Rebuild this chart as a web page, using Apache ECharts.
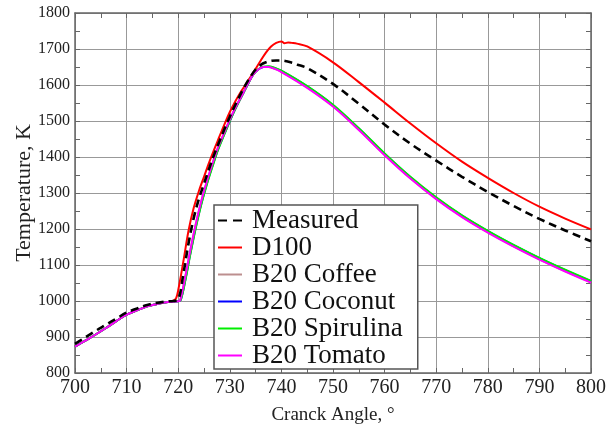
<!DOCTYPE html>
<html><head><meta charset="utf-8">
<script src="https://cdn.jsdelivr.net/npm/echarts@6/dist/echarts.min.js"></script>
<style>html,body{margin:0;padding:0;background:#fff}#c{width:609px;height:430px}</style>
</head><body><div id="c"></div>
<script>
const seriesNames = ['Measured','D100','B20 Coffee','B20 Coconut','B20 Spirulina','B20 Tomato'];
const seriesColors = ['#000000','#ff0000','#bc8f8f','#0000ff','#00ee00','#ff00ff'];

const xTicks = [700,710,720,730,740,750,760,770,780,790,800];
const yTicks = [800,900,1000,1100,1200,1300,1400,1500,1600,1700,1800];

const measuredAngle = [700,702,704,706,708,710,712,714,716,718,719,720,721,722,723,724,725,726,727,728,729,730,731,732,733,734,735,736,737,738,739,740,741,742,743,745,750,755,760,765,770,775,780,785,790,795,800];
const measuredTemp  = [881,899,917,934,951,968,979,989,995,999,1000,1004,1075,1160,1230,1283,1326,1368,1408,1444,1479,1512,1543,1572,1599,1623,1643,1656,1663,1667,1668,1668,1666,1662,1657,1647,1603,1548,1490,1437,1390,1345,1303,1264,1228,1196,1166];

const d100Angle = [700,702,704,706,708,710,712,714,716,718,719,719.6,720,721,722,723,724,725,726,727,728,729,730,731,732,733,734,735,736,737,738,739,740,740.6,741.3,742,743,745,750,755,760,765,770,775,780,785,790,795,800];
const d100Temp  = [873,890,907,925,944,962,974,985,992,997,1000,1008,1030,1110,1195,1258,1305,1345,1385,1422,1457,1492,1525,1553,1578,1600,1622,1645,1668,1690,1707,1717,1721,1716,1718,1717,1715,1707,1663,1608,1551,1493,1438,1387,1342,1300,1262,1229,1199];

const coffeeAngle = [700,702,704,706,708,710,712,714,716,718,720,720.4,721.3,722.2,723.2,724.3,725.5,726.6,727.7,729,730,731.3,732.6,733.6,734.5,735.5,736.5,737.5,738.5,740,745,750,755,760,765,770,775,780,785,790,795,800];
const coffeeTemp  = [873,890,907,925,944,962,974,985,992,997,999,1003,1062,1130,1200,1268,1330,1380,1426,1470,1504,1543,1578,1606,1628,1643,1650,1650,1646,1637,1593,1541,1476,1406,1341,1284,1234,1191,1152,1116,1083,1052];

const coconutAngle = [700,702,704,706,708,710,712,714,716,718,720,720.5,721.4,722.3,723.3,724.4,725.6,726.7,727.8,729,730,731.3,732.6,733.6,734.5,735.5,736.5,737.5,738.5,740,745,750,755,760,765,770,775,780,785,790,795,800];
const coconutTemp  = [873,890,907,925,944,962,974,985,992,997,999,1003,1060,1128,1198,1266,1328,1378,1424,1466,1500,1541,1577,1605,1628,1643,1650,1651,1648,1639,1596,1544,1479,1409,1344,1287,1237,1194,1155,1119,1086,1055];

const spirulinaAngle = [700,702,704,706,708,710,712,714,716,718,720,720.5,721.4,722.3,723.3,724.4,725.6,726.7,727.8,729,730,731.3,732.6,733.6,734.5,735.5,736.5,737.5,738.5,740,745,750,755,760,765,770,775,780,785,790,795,800];
const spirulinaTemp  = [873,890,907,925,944,962,974,985,992,997,999,1003,1058,1126,1196,1264,1326,1376,1423,1465,1500,1540,1577,1605,1628,1644,1651,1652,1649,1640,1597,1545,1480,1410,1345,1288,1238,1195,1156,1120,1087,1056];

const tomatoAngle = [700,702,704,706,708,710,712,714,716,718,720,720.4,721.3,722.2,723.2,724.3,725.5,726.6,727.7,729,730,731.3,732.6,733.6,734.5,735.5,736.5,737.5,738.5,740,745,750,755,760,765,770,775,780,785,790,795,800];
const tomatoTemp  = [873,890,907,925,944,962,974,985,992,997,999,1003,1062,1130,1200,1268,1330,1380,1426,1470,1504,1543,1578,1606,1628,1643,1650,1650,1646,1636,1592,1540,1475,1405,1340,1283,1233,1190,1151,1115,1082,1051];

const allAngles = [measuredAngle,d100Angle,coffeeAngle,coconutAngle,spirulinaAngle,tomatoAngle];
const allTemps  = [measuredTemp,d100Temp,coffeeTemp,coconutTemp,spirulinaTemp,tomatoTemp];

const font = 'Liberation Serif';
const chart = echarts.init(document.getElementById('c'), null, {renderer:'canvas'});

const series = seriesNames.map((name,i)=>({
  name, type:'line', showSymbol:false, symbol:'none', smooth:0.35,
  data: allAngles[i].map((a,j)=>[a, allTemps[i][j]]),
  lineStyle:{color:seriesColors[i], width: i===0?2.6:2, type: i===0?[8,5]:'solid'},
  itemStyle:{color:seriesColors[i]},
  z: i===0?3:2
}));

const dashIcon = 'path://M0,0h9v2h-9zM15,0h9v2h-9z';
const solidIcon = 'path://M0,0h24v2h-24z';

const axisLine = {show:true, lineStyle:{color:'#666', width:1.5}};
const tick = {inside:true, length:5, lineStyle:{color:'#666'}};
const minor = {show:true, splitNumber:2, length:5, lineStyle:{color:'#666'}};
chart.setOption({
  animation:false,
  backgroundColor:'#fff',
  grid:{left:75, right:17, top:13, bottom:55},
  legend:{
    orient:'vertical', left:214, top:205,
    data: seriesNames.map((n,i)=>({name:n, icon: i===0?dashIcon:solidIcon})),
    backgroundColor:'#fff', borderColor:'#555', borderWidth:1.5,
    padding:[2,15,0,4],
    itemWidth:24, itemHeight:2, itemGap:0,
    textStyle:{fontFamily:font, fontSize:27, color:'#111', lineHeight:26.3, padding:[0,0,0,5]}
  },
  xAxis:[{
    type:'value', min:700, max:800, interval:10,
    name:'Cranck Angle, °', nameLocation:'middle', nameGap:33, nameMoveOverlap:false,
    nameTextStyle:{fontFamily:font, fontSize:19, color:'#222'},
    axisLine, axisTick:tick, minorTick:minor,
    axisLabel:{fontFamily:font, fontSize:20, color:'#222', margin:5, formatter:v=>xTicks.includes(v)?String(v):''},
    splitLine:{show:true, lineStyle:{color:'#999', width:1}}
  },{
    type:'value', position:'top', min:700, max:800, interval:10,
    axisLine, axisTick:tick, minorTick:minor,
    axisLabel:{show:false}, splitLine:{show:false}
  }],
  yAxis:[{
    type:'value', min:800, max:1800, interval:100,
    name:'Temperature, K', nameLocation:'middle', nameGap:40, nameMoveOverlap:false,
    nameTextStyle:{fontFamily:font, fontSize:22, color:'#222'},
    axisLine, axisTick:tick, minorTick:minor,
    axisLabel:{fontFamily:font, fontSize:16, color:'#222', margin:5, formatter:v=>yTicks.includes(v)?String(v):''},
    splitLine:{show:true, lineStyle:{color:'#999', width:1}}
  },{
    type:'value', position:'right', min:800, max:1800, interval:100,
    axisLine, axisTick:tick, minorTick:minor,
    axisLabel:{show:false}, splitLine:{show:false}
  }],
  series
});
</script></body></html>
